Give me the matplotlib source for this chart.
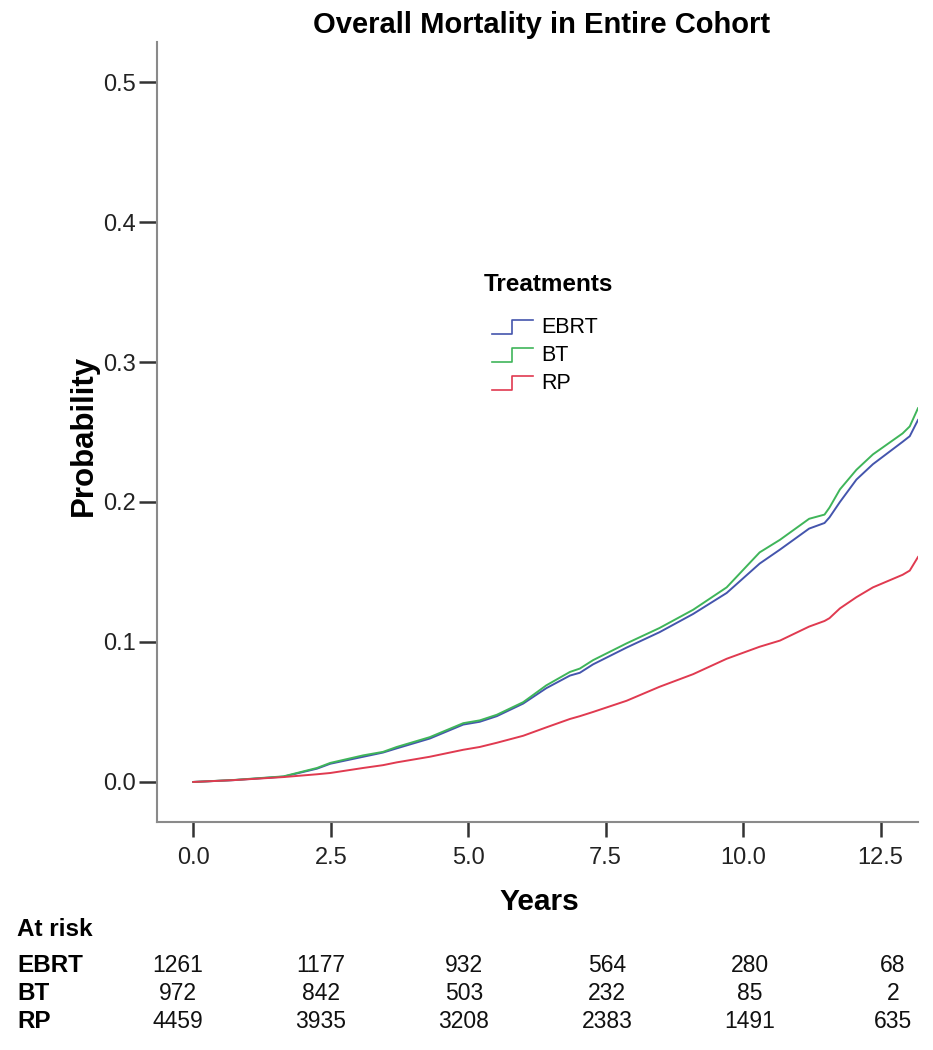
import numpy as np
import matplotlib
matplotlib.use("Agg")
from matplotlib import pyplot as plt
from matplotlib.legend_handler import HandlerBase
from matplotlib.lines import Line2D

plt.rcParams["font.family"] = ["Liberation Sans", "DejaVu Sans"]

# cumulative mortality
years = [0, 0.73, 1.64, 2.25, 2.49, 3.09, 3.45, 3.7, 4.3, 4.91, 5.21, 5.52,
         6.0, 6.42, 6.85, 7.03, 7.27, 7.88, 8.48, 9.09, 9.7, 10.3, 10.67,
         11.2, 11.48, 11.57, 11.76, 12.06, 12.36, 12.9, 13.03, 13.18]
ebrt = [0, 0.0013, 0.0038, 0.0095, 0.013, 0.018, 0.021, 0.024, 0.031, 0.041,
        0.043, 0.047, 0.056, 0.067, 0.076, 0.078, 0.084, 0.096, 0.107, 0.120,
        0.135, 0.156, 0.166, 0.181, 0.185, 0.189, 0.200, 0.216, 0.227, 0.243,
        0.247, 0.2586]
bt = [0, 0.0014, 0.004, 0.010, 0.0136, 0.019, 0.0215, 0.025, 0.032, 0.042,
      0.044, 0.048, 0.057, 0.069, 0.0786, 0.081, 0.087, 0.099, 0.110, 0.123,
      0.139, 0.164, 0.173, 0.188, 0.191, 0.196, 0.209, 0.223, 0.234, 0.249,
      0.254, 0.267]
rp = [0, 0.0013, 0.0035, 0.0055, 0.0064, 0.010, 0.012, 0.014, 0.018, 0.023,
      0.025, 0.028, 0.033, 0.039, 0.045, 0.047, 0.050, 0.058, 0.068, 0.077,
      0.088, 0.0966, 0.101, 0.111, 0.115, 0.117, 0.124, 0.132, 0.139, 0.148,
      0.151, 0.1607]

groups = ["EBRT", "BT", "RP"]
colors = ["#4455ad", "#3fb55a", "#e03a50"]

at_risk_ebrt = [1261, 1177, 932, 564, 280, 68]
at_risk_bt = [972, 842, 503, 232, 85, 2]
at_risk_rp = [4459, 3935, 3208, 2383, 1491, 635]

xticks = [0.0, 2.5, 5.0, 7.5, 10.0, 12.5]
yticks = [0.0, 0.1, 0.2, 0.3, 0.4, 0.5]


class StepHandler(HandlerBase):
    def create_artists(self, legend, orig_handle, xdescent, ydescent,
                       width, height, fontsize, trans):
        x0 = -xdescent
        xm = x0 + 0.48 * width
        y0 = -ydescent - 0.05 * height
        y1 = -ydescent + 0.85 * height
        line = Line2D([x0, xm, xm, x0 + width], [y0, y0, y1, y1],
                      color=orig_handle.get_color(), lw=1.2)
        line.set_transform(trans)
        return [line]


fig = plt.figure(figsize=(9.33, 10.5), dpi=100)
ax = fig.add_axes([157 / 933, 1 - 822 / 1050, 761 / 933, 780 / 1050])

lines = []
for name, vals, c in zip(groups, [ebrt, bt, rp], colors):
    ln, = ax.plot(years, vals, color=c, lw=1.4, label=name)
    lines.append(ln)

ax.set_xlim(-0.66, 13.18)
ax.set_ylim(-0.0286, 0.5286)
ax.set_xticks(xticks)
ax.set_yticks(yticks)
ax.set_xticklabels([f"{t:.1f}" for t in xticks])
ax.set_yticklabels([f"{t:.1f}" for t in yticks])
for s in ["top", "right"]:
    ax.spines[s].set_visible(False)
for s in ["left", "bottom"]:
    ax.spines[s].set_color("#8a8a8a")
    ax.spines[s].set_linewidth(1.5)
ax.tick_params(axis="x", direction="out", length=11, width=1.8, color="#333333",
               labelsize=17, pad=7, labelcolor="#222222")
ax.tick_params(axis="y", direction="out", length=13, width=1.8, color="#333333",
               labelsize=17, pad=2, labelcolor="#222222")

ax.set_xlabel("Years", fontsize=21.5, fontweight="bold", va="center")
ax.xaxis.set_label_coords(0.503, -0.1026)
ax.set_ylabel("Probability", fontsize=22.5, fontweight="bold", va="center")
ax.yaxis.set_label_coords(-0.096, 0.496)

fig.text(542 / 933, 1 - 25 / 1050, "Overall Mortality in Entire Cohort",
         fontsize=21, fontweight="bold", ha="center", va="center")

# legend title drawn on its own so the gap to the entries matches
fig.text(548 / 933, 1 - 285 / 1050, "Treatments", fontsize=17.5,
         fontweight="bold", ha="center", va="center")
leg = ax.legend(lines, groups, handler_map={Line2D: StepHandler()},
                frameon=False, fontsize=15.5,
                loc="upper left", bbox_to_anchor=(492 / 933, 1 - 317 / 1050),
                bbox_transform=fig.transFigure, borderpad=0, borderaxespad=0,
                handlelength=1.9, handletextpad=0.4, labelspacing=0.32)

# number-at-risk table
tab = fig.add_axes([0, 0, 1, 140 / 1050])
tab.set_xlim(-178 / 143, (933 - 178) / 143)
tab.set_ylim(0, 140)
tab.axis("off")
tab.text(-1.126, 120, "At risk", fontsize=17.5, fontweight="bold",
         ha="left", va="center")
for row_y, name, counts in zip([85, 57, 28], groups,
                               [at_risk_ebrt, at_risk_bt, at_risk_rp]):
    tab.text(-1.126, row_y, name, fontsize=17.5, fontweight="bold",
             ha="left", va="center")
    for k, n in enumerate(counts):
        tab.text(k, row_y, str(n), fontsize=16.5, ha="center", va="center",
                 color="#111111")

fig.savefig("out.png", dpi=100)
